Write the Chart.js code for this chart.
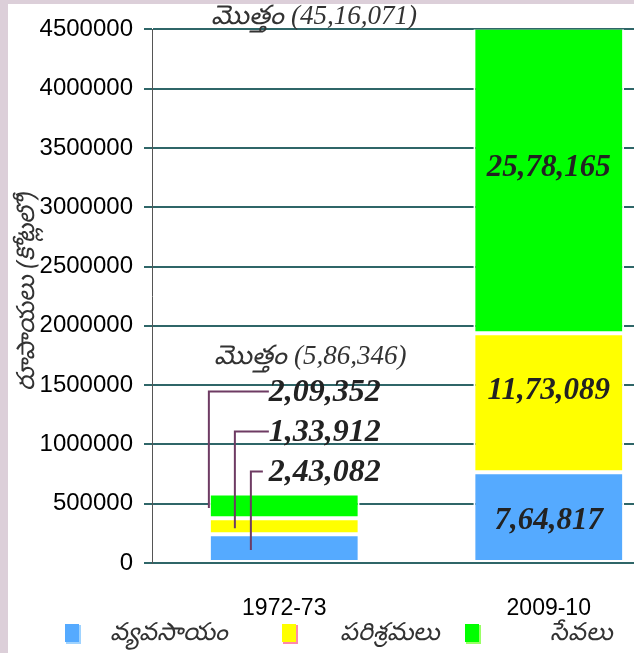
<!DOCTYPE html>
<html>
<head>
<meta charset="utf-8">
<script src="https://cdn.jsdelivr.net/npm/chart.js@4.4.0/dist/chart.umd.min.js"></script>
<style>
  body { margin: 0; background: #dccfd9; }
  #wrap { position: absolute; left: 8px; top: 4px; width: 626px; height: 649px; overflow: hidden; background: #fff; }
</style>
</head>
<body>
<div id="wrap"><canvas id="chart" width="700" height="649"></canvas></div>
<script>
const years = ['1972-73', '2009-10'];
const seriesNames = ['వ్యవసాయం', 'పరిశ్రమలు', 'సేవలు'];
const agriculture = [243082, 764817];
const industry = [133912, 1173089];
const services = [209352, 2578165];
const valueLabels = [
    ['2,43,082', '7,64,817'],
    ['1,33,912', '11,73,089'],
    ['2,09,352', '25,78,165']
];
const totalLabels = ['మొత్తం (5,86,346)', 'మొత్తం (45,16,071)'];
const yTicks = [0, 500000, 1000000, 1500000, 2000000, 2500000, 3000000, 3500000, 4000000, 4500000];
const yTitle = 'రూపాయలు (కోట్లలో)';

const colors = ['#55aaff', '#ffff00', '#00ff00'];
const legendEdge = ['#9fd3ff', '#ff88aa', '#99ff66'];
const numFont = 'bold italic 31px "Liberation Serif", "DejaVu Serif", serif';

const labelPlugin = {
    id: 'labels',
    afterDatasetsDraw(chart) {
        const ctx = chart.ctx;
        const area = chart.chartArea;
        ctx.save();
        // values inside the 2009-10 bar
        ctx.font = numFont;
        ctx.fillStyle = '#222';
        ctx.textAlign = 'center';
        ctx.textBaseline = 'middle';
        chart.data.datasets.forEach((ds, i) => {
            const bar = chart.getDatasetMeta(i).data[1];
            const mid = (bar.y + bar.base) / 2 - (i === 0 ? -4 : 12);
            ctx.fillText(valueLabels[i][1], bar.x, mid);
        });

        // values of the 1972-73 bar with leader lines
        const topBar = chart.getDatasetMeta(2).data[0];
        const left = topBar.x - topBar.width / 2;
        const offsets = [[42, -22, -6], [26, -62, 0], [0, -102, 0]];
        ctx.font = 'bold italic 32px "Liberation Serif", "DejaVu Serif", serif';
        ctx.strokeStyle = '#6e3b63';
        ctx.lineWidth = 2;
        ctx.textAlign = 'left';
        for (let i = 0; i < 3; i++) {
            const bar = chart.getDatasetMeta(i).data[0];
            const lx = left + offsets[i][0];
            const ly = topBar.y + offsets[i][1];
            const tx = left + 60 + offsets[i][2];
            ctx.beginPath();
            ctx.moveTo(tx, ly);
            ctx.lineTo(lx, ly);
            ctx.lineTo(lx, (bar.y + bar.base) / 2 + 2);
            ctx.stroke();
            ctx.fillText(valueLabels[i][0], left + 60, ly + 1);
        }

        // totals
        ctx.font = 'italic 27px "Liberation Serif", "DejaVu Serif", serif';
        ctx.fillStyle = '#333';
        ctx.textAlign = 'center';
        ctx.fillText(totalLabels[0], topBar.x + 26, topBar.y - 137);
        ctx.fillText(totalLabels[1], area.left + 162, area.top - 12);

        // y axis title
        ctx.save();
        ctx.translate(19, (area.top + area.bottom) / 2 - 5);
        ctx.rotate(-Math.PI / 2);
        ctx.font = 'italic 25px "Noto Sans", sans-serif';
        ctx.fillStyle = '#333';
        ctx.fillText(yTitle, 0, 0);
        ctx.restore();

        // legend
        const lx = [57, 274, 457];
        const tx = [102, 332, 542];
        const ly = area.bottom + 70;
        ctx.font = 'italic 25px "Noto Sans", sans-serif';
        ctx.textAlign = 'left';
        for (let i = 0; i < 3; i++) {
            ctx.fillStyle = legendEdge[i];
            ctx.fillRect(lx[i] + 1, ly - 8, 15, 19);
            ctx.fillStyle = colors[i];
            ctx.fillRect(lx[i], ly - 9, 14, 18);
            ctx.fillStyle = '#333';
            ctx.fillText(seriesNames[i], tx[i], ly);
        }
        ctx.restore();
    }
};

new Chart(document.getElementById('chart'), {
    type: 'bar',
    data: {
        labels: years,
        datasets: [
            { label: seriesNames[0], data: agriculture, backgroundColor: colors[0] },
            { label: seriesNames[1], data: industry, backgroundColor: colors[1] },
            { label: seriesNames[2], data: services, backgroundColor: colors[2] }
        ].map(d => Object.assign(d, {
            borderColor: '#ffffff', borderWidth: 2, borderSkipped: false,
            barPercentage: 0.57, categoryPercentage: 1
        }))
    },
    options: {
        responsive: false,
        animation: false,
        layout: { padding: { top: 23, left: 0, right: 27, bottom: 0 } },
        plugins: { legend: { display: false }, tooltip: { enabled: false } },
        scales: {
            x: {
                stacked: true,
                grid: { display: false },
                border: { display: false },
                ticks: { color: '#000', padding: 24, font: { size: 23, family: '"Liberation Sans", sans-serif' } },
                afterFit: s => { s.height = 90; }
            },
            y: {
                stacked: true,
                min: 0,
                max: 4500000,
                afterBuildTicks: s => { s.ticks = yTicks.map(v => ({ value: v })); },
                grid: { color: '#2f6668', lineWidth: 2, tickLength: 8 },
                border: { display: true, color: '#555', width: 1 },
                ticks: { color: '#000', padding: 11, callback: v => String(v), font: { size: 24, family: '"Liberation Sans", sans-serif' } },
                afterFit: s => { s.width = 144; }
            }
        }
    },
    plugins: [labelPlugin]
});
</script>
</body>
</html>
